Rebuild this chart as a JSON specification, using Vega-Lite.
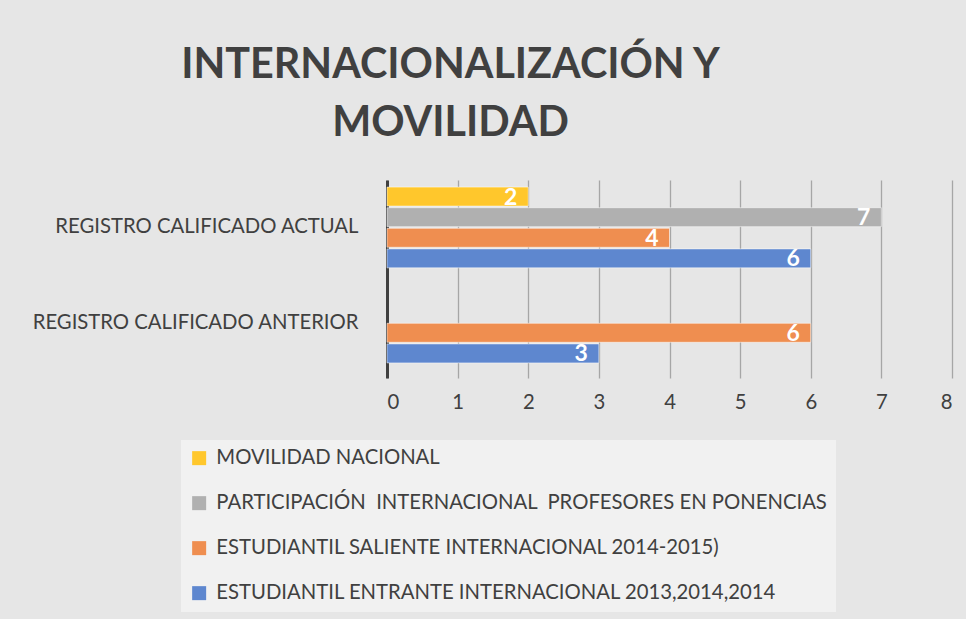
{
  "$schema": "https://vega.github.io/schema/vega-lite/v6.json",
  "autosize": {"type": "none"},
  "padding": {"left": 387, "top": 180, "right": 14, "bottom": 241},
  "width": 565,
  "height": 198,
  "background": "#e6e6e6",
  "title": {
    "text": ["INTERNACIONALIZACIÓN Y", "MOVILIDAD"],
    "anchor": "middle",
    "dx": -219,
    "offset": 36,
    "font": "Lato",
    "fontSize": 41.3,
    "fontWeight": "bold",
    "lineHeight": 58,
    "color": "#404040"
  },
  "data": {
    "values": [
      {"registro": "REGISTRO CALIFICADO ACTUAL", "serie": "MOVILIDAD NACIONAL", "valor": 2},
      {"registro": "REGISTRO CALIFICADO ACTUAL", "serie": "PARTICIPACIÓN  INTERNACIONAL  PROFESORES EN PONENCIAS", "valor": 7},
      {"registro": "REGISTRO CALIFICADO ACTUAL", "serie": "ESTUDIANTIL SALIENTE INTERNACIONAL 2014-2015)", "valor": 4},
      {"registro": "REGISTRO CALIFICADO ACTUAL", "serie": "ESTUDIANTIL ENTRANTE INTERNACIONAL 2013,2014,2014", "valor": 6},
      {"registro": "REGISTRO CALIFICADO ANTERIOR", "serie": "ESTUDIANTIL SALIENTE INTERNACIONAL 2014-2015)", "valor": 6},
      {"registro": "REGISTRO CALIFICADO ANTERIOR", "serie": "ESTUDIANTIL ENTRANTE INTERNACIONAL 2013,2014,2014", "valor": 3}
    ]
  },
  "encoding": {
    "y": {
      "field": "registro",
      "type": "nominal",
      "sort": ["REGISTRO CALIFICADO ACTUAL", "REGISTRO CALIFICADO ANTERIOR"],
      "title": null,
      "scale": {"paddingInner": 0.15, "paddingOuter": 0.117, "align": 0.32},
      "axis": {
        "ticks": false,
        "labelPadding": 29,
        "labelLimit": 400,
        "labelFont": "Lato",
        "labelFontSize": 20.3,
        "labelColor": "#404040",
        "domainColor": "#404040",
        "domainWidth": 3
      }
    },
    "yOffset": {
      "field": "serie",
      "type": "nominal",
      "sort": ["MOVILIDAD NACIONAL", "PARTICIPACIÓN  INTERNACIONAL  PROFESORES EN PONENCIAS", "ESTUDIANTIL SALIENTE INTERNACIONAL 2014-2015)", "ESTUDIANTIL ENTRANTE INTERNACIONAL 2013,2014,2014"],
      "scale": {"paddingInner": 0.08, "paddingOuter": 0}
    },
    "x": {
      "field": "valor",
      "type": "quantitative",
      "title": null,
      "scale": {"domain": [0, 8], "nice": false},
      "axis": {
        "values": [0, 1, 2, 3, 4, 5, 6, 7, 8],
        "labelOverlap": false,
        "domain": false,
        "ticks": false,
        "grid": true,
        "gridColor": "#a6a6a6",
        "gridWidth": 1.3,
        "labelPadding": 14,
        "labelFont": "Lato",
        "labelFontSize": 20.3,
        "labelColor": "#404040"
      }
    }
  },
  "layer": [
    {
      "mark": {"type": "bar", "stroke": "#ffffff", "strokeOpacity": 0.5, "strokeWidth": 1},
      "encoding": {
        "color": {
          "field": "serie",
          "type": "nominal",
          "title": null,
          "scale": {
            "domain": ["MOVILIDAD NACIONAL", "PARTICIPACIÓN  INTERNACIONAL  PROFESORES EN PONENCIAS", "ESTUDIANTIL SALIENTE INTERNACIONAL 2014-2015)", "ESTUDIANTIL ENTRANTE INTERNACIONAL 2013,2014,2014"],
            "range": ["#FFC72C", "#B0B0B0", "#EF8E50", "#5E87CF"]
          },
          "legend": {
            "orient": "none",
            "legendX": -206,
            "legendY": 260,
            "direction": "vertical",
            "symbolType": "square",
            "symbolSize": 196,
            "symbolStrokeWidth": 0,
            "rowPadding": 24,
            "padding": 8,
            "fillColor": "#f1f1f1",
            "labelFont": "Lato",
            "labelFontSize": 20.3,
            "labelColor": "#404040",
            "labelLimit": 800,
            "labelOffset": 7,
            "labelExpr": "replace(datum.label, regexp('  ', 'g'), ' \u00a0')"
          }
        }
      }
    },
    {
      "mark": {"type": "text", "align": "right", "baseline": "middle", "dx": -11, "dy": 1, "color": "#ffffff", "font": "Lato", "fontSize": 23, "fontWeight": "bold"},
      "encoding": {
        "text": {"field": "valor", "type": "quantitative"}
      }
    }
  ],
  "config": {
    "view": {"stroke": null}
  }
}
